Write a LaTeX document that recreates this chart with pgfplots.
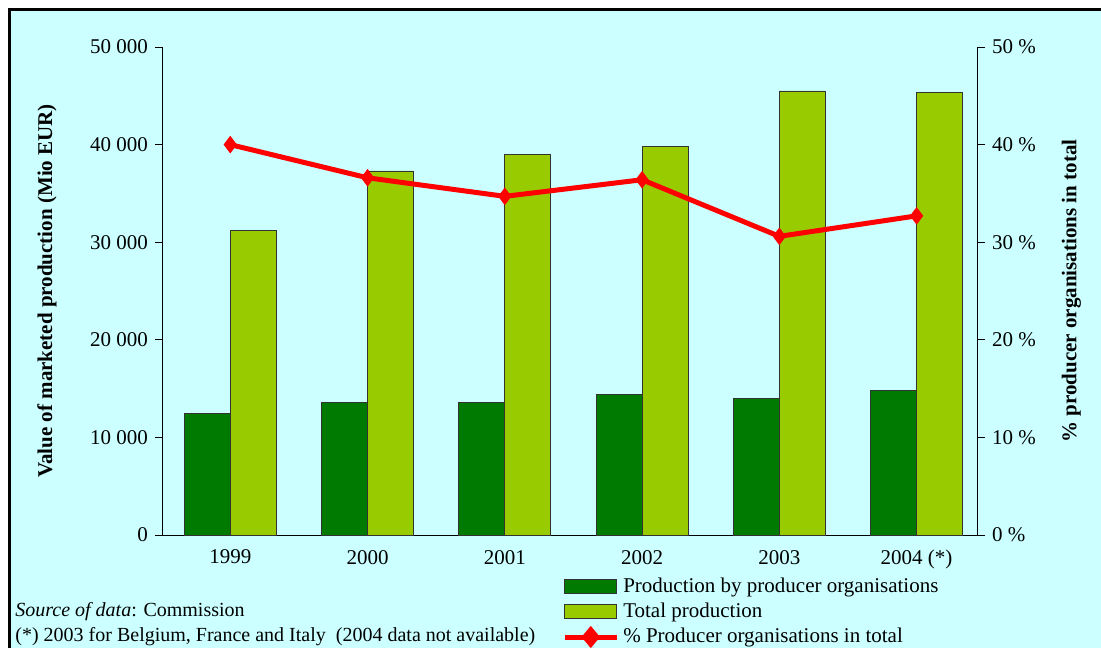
\documentclass[border=0pt]{standalone}
\usepackage{fontspec}
\setmainfont{Liberation Serif}
\usepackage{pgfplots}
\pgfplotsset{compat=1.18}
\definecolor{bgcyan}{HTML}{CCFFFF}
\definecolor{dkgreen}{HTML}{007A00}
\definecolor{ltgreen}{HTML}{99CC00}
\definecolor{barline}{HTML}{333333}

\pgfplotsset{
  common/.style={
    at={(81.5pt,-267.5pt)}, anchor=south west,
    scale only axis, width=407pt, height=244pt,
    xmin=-0.49, xmax=5.44,
    tick align=outside, major tick length=4pt,
    axis line style={line width=0.5pt, black},
    tick style={line width=0.5pt, black},
    tick label style={font=\fontsize{10.5}{12}\selectfont},
    label style={font=\fontsize{10.5}{12}\selectfont\bfseries},
    scaled y ticks=false,
  },
  boxlegend/.style={legend image code/.code={
      \draw[#1] (0pt,-3.5pt) rectangle (26pt,3.5pt);}},
  linelegend/.style={legend image code/.code={
      \draw[#1] (0pt,0pt) -- (26pt,0pt);
      \fill[red] (13pt,3.6pt) -- (16pt,0pt) -- (13pt,-3.6pt) -- (10pt,0pt) -- cycle;}},
}

\begin{document}
\begin{tikzpicture}
\useasboundingbox (0pt,0pt) rectangle (550.5pt,-324pt);
\fill[bgcyan] (4pt,-4pt) rectangle (550.5pt,-324pt);
\draw[line width=1.5pt] (4.75pt,-324pt) -- (4.75pt,-4.75pt) -- (550.5pt,-4.75pt);

% bars, left axis
\begin{axis}[common,
  ymin=0, ymax=50000,
  axis y line*=left, axis x line*=bottom,
  xtick={0,1,2,3,4,5},
  xticklabels={1999,2000,2001,2002,2003,2004 (*)},
  x tick style={draw=none},
  ytick={0,10000,20000,30000,40000,50000},
  yticklabels={0,10 000,20 000,30 000,40 000,50 000},
  ylabel={Value of marketed production (Mio EUR)},
  ylabel style={at={(axis description cs:-0.1425,0.5)}, anchor=center},
  bar width=0.335,
]
\addplot[ybar, fill=dkgreen, draw=barline, line width=0.4pt, bar shift=-0.1675]
coordinates {(0,12500) (1,13600) (2,13600) (3,14400) (4,14000) (5,14800)};
\addplot[ybar, fill=ltgreen, draw=barline, line width=0.4pt, bar shift=0.1675]
coordinates {(0,31200) (1,37300) (2,39000) (3,39800) (4,45500) (5,45300)};
\end{axis}

% share of producer organisations, right axis
\begin{axis}[common,
  ymin=0, ymax=50,
  axis y line*=right, axis x line=none,
  ytick={0,10,20,30,40,50},
  yticklabels={0 \%,10 \%,20 \%,30 \%,40 \%,50 \%},
  ylabel={\% producer organisations in total},
  ylabel style={at={(axis description cs:1.116,0.5)}, anchor=center},
  legend style={at={(axis description cs:0.49,-0.078)}, anchor=north west,
    draw=none, fill=none, inner sep=0pt, row sep=-0.1pt,
    font=\fontsize{10.5}{12}\selectfont, cells={anchor=west}},
]
\addlegendimage{boxlegend, fill=dkgreen, draw=barline, line width=0.5pt}
\addlegendentry{Production by producer organisations}
\addlegendimage{boxlegend, fill=ltgreen, draw=barline, line width=0.5pt}
\addlegendentry{Total production}
\addplot[red, line width=2.5pt, mark=diamond*, mark size=4pt,
  mark options={line width=0.5pt}, linelegend]
coordinates {(0,40.0) (1,36.6) (2,34.7) (3,36.4) (4,30.6) (5,32.7)};
\addlegendentry{\% Producer organisations in total}
\end{axis}

\node[anchor=base west, inner sep=0pt, font=\fontsize{10}{12}\selectfont]
  at (7.5pt,-308pt) {\textit{Source of data}: Commission};
\node[anchor=base west, inner sep=0pt, font=\fontsize{10}{12}\selectfont]
  at (7.5pt,-320.5pt) {(*) 2003 for Belgium, France and Italy\ \ (2004 data not available)};
\end{tikzpicture}
\end{document}
